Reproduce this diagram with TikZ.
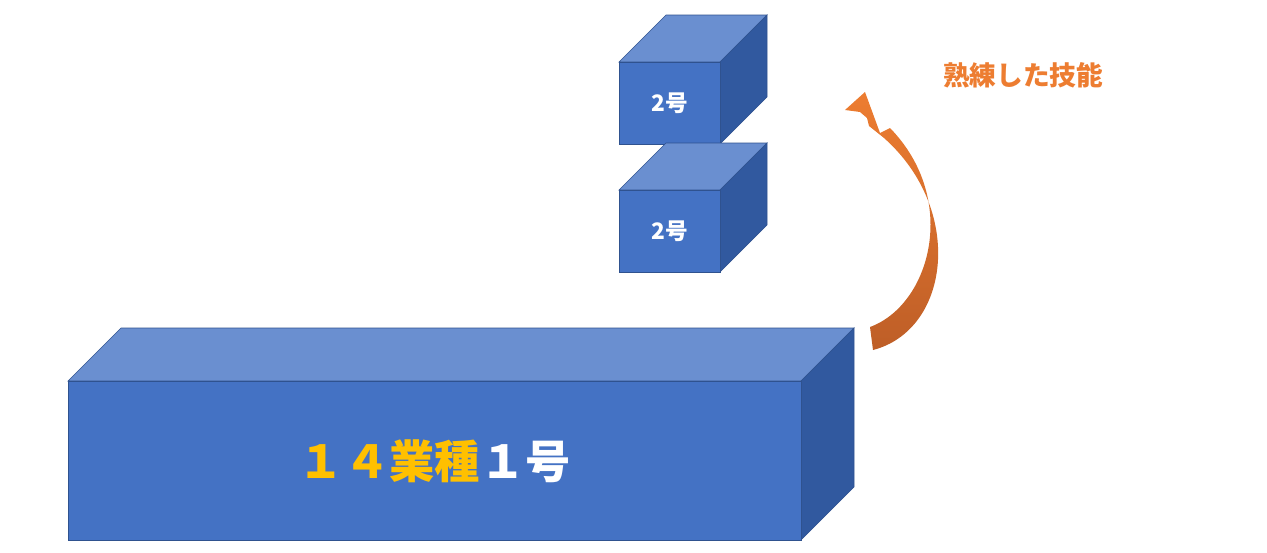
\documentclass[tikz,border=0pt]{standalone}
\usepackage{fontspec}
\newfontfamily\cjk{Noto Sans CJK JP}
\definecolor{front}{HTML}{4472C4}
\definecolor{topc}{HTML}{6A8FD0}
\definecolor{side}{HTML}{31599F}
\definecolor{edge}{HTML}{2F528F}
\definecolor{orng}{HTML}{ED7D31}
\definecolor{dorng}{HTML}{BE5E27}
\definecolor{gold}{HTML}{FFC000}
\begin{document}
\begin{tikzpicture}[x=0.75pt,y=-0.75pt,
  face/.style={draw=edge,line width=0.5pt}]
\useasboundingbox (0,0) rectangle (1267,553);
% big box
\fill[face,fill=topc] (68,381) -- (121,328) -- (854,328) -- (801,381) -- cycle;
\fill[face,fill=side] (801,381) -- (854,328) -- (854,487) -- (801,540) -- cycle;
\node[face,fill=front,minimum width=733*0.75pt,minimum height=159*0.75pt,anchor=north west,inner sep=0] (big) at (68,381) {};
\node at (big.center) {\cjk\bfseries\fontsize{34}{40}\selectfont\color{gold}１４業種\color{white}１号};
% small boxes
\foreach \y/\n in {62/a,190/b}{
  \fill[face,fill=topc] (619,\y) -- (666,\y-47) -- (767,\y-47) -- (720,\y) -- cycle;
  \fill[face,fill=side] (720,\y) -- (767,\y-47) -- (767,\y+35) -- (720,\y+82) -- cycle;
  \node[face,fill=front,minimum width=101*0.75pt,minimum height=82*0.75pt,anchor=north west,inner sep=0] (\n) at (619,\y) {\cjk\bfseries\fontsize{17}{20}\selectfont\color{white}2号};
}
% arrow
\shade[top color=orng,bottom color=dorng]
  (870,327) .. controls (930,305) and (960,200) .. (890,128)
  -- (880,133) -- (865,92) -- (845,110) -- (860,112) -- (867,118)
  -- (869,126) -- (884,138)
  .. controls (965,210) and (950,330) .. (873,350) -- cycle;
\node (t) at (1023,75) {\cjk\bfseries\fontsize{20}{24}\selectfont\color{orng}熟練した技能};
\end{tikzpicture}
\end{document}
